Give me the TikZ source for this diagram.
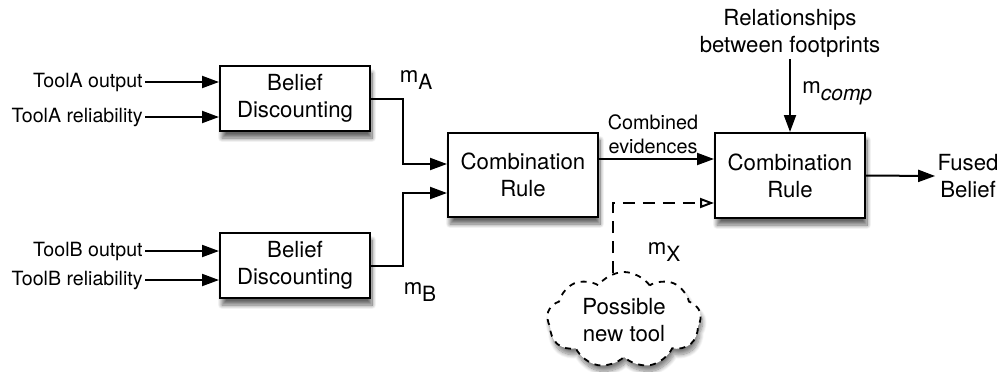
\documentclass[tikz,border=0pt]{standalone}
\usepackage{fontspec}
\setmainfont{TeX Gyre Heros}
\usetikzlibrary{arrows.meta,shapes.symbols,shadows.blur,calc}
\newcommand{\subsc}[1]{\raisebox{-0.6ex}{\fontsize{10.5}{12}\selectfont #1}}
\begin{document}
\begin{tikzpicture}[x=0.5pt,y=-0.5pt,
  box/.style={draw,line width=1pt,fill=white,align=center,inner sep=0pt,
    font=\fontsize{11.1}{13.5}\selectfont,
    blur shadow={shadow blur steps=12,shadow xshift=1pt,shadow yshift=-3.5pt,shadow opacity=60}},
  lbl/.style={font=\fontsize{9.8}{11.5}\selectfont,inner sep=1pt},
  big/.style={font=\fontsize{11.1}{13.5}\selectfont,align=center,inner sep=1pt},
  arr/.style={line width=1pt,-{Triangle[length=8.5pt,width=6pt]}},
  dsh/.style={line width=1pt,dash pattern=on 6pt off 4pt,-{Triangle[open,length=7pt,width=5pt]}}]
\useasboundingbox (0,0) rectangle (1000,371);
\node[box,minimum width=75pt,minimum height=32.5pt] (bda) at (295,98.5) {Belief\\Discounting};
\node[box,minimum width=75pt,minimum height=32.5pt] (bdb) at (295,265.5) {Belief\\Discounting};
\node[box,minimum width=75pt,minimum height=42pt] (cra) at (523,175) {Combination\\Rule};
\node[box,minimum width=75pt,minimum height=42.5pt] (crb) at (790,175.5) {Combination\\Rule};
\node[lbl,anchor=east] (ia) at (145,82) {ToolA output};
\node[lbl,anchor=east] (ra) at (145,117) {ToolA reliability};
\node[lbl,anchor=east] (ib) at (145,251) {ToolB output};
\node[lbl,anchor=east] (rb) at (145,280) {ToolB reliability};
\draw[arr] (ia.east) -- (ia.east -| bda.west);
\draw[arr] (ra.east) -- (ra.east -| bda.west);
\draw[arr] (ib.east) -- (ib.east -| bdb.west);
\draw[arr] (rb.east) -- (rb.east -| bdb.west);
\coordinate (ina) at ($(cra.west)+(0,-11)$);
\coordinate (inb) at ($(cra.west)+(0,18)$);
\draw[arr] (bda.east) -- ++(32,0) |- (ina);
\draw[arr] (bdb.east) -- ++(32,0) |- (inb);
\node[big] (ma) at (416,80) {m\subsc{A}};
\node[big] (mb) at (420,292) {m\subsc{B}};
\coordinate (ce) at ($(cra.east)+(0,-16)$);
\draw[arr] (ce) -- (ce -| crb.west);
\node[font=\fontsize{9.9}{11.8}\selectfont,align=center,inner sep=0pt] (cel) at (653,134) {Combined\\evidences};
\node[cloud,draw,dashed,line width=0.9pt,cloud puffs=9,cloud puff arc=110,aspect=1.6,
  minimum width=77pt,minimum height=48pt,inner sep=0pt,align=center,
  font=\fontsize{11.1}{13.5}\selectfont,fill=white,
  blur shadow={shadow blur steps=10,shadow xshift=1pt,shadow yshift=-3pt,shadow opacity=50}] (cl) at (624,320) {Possible\\new tool};
\draw[dsh] ([xshift=-5.5pt,yshift=-1pt]cl.north) |- ($(crb.west)+(0,27.5)$);
\node[big] (mx) at (664,252) {m\subsc{X}};
\node[big] (rel) at (790,33) {Relationships\\between footprints};
\draw[arr] (rel.south) -- (crb.north);
\node[big,anchor=west] (mc) at (800,93) {m\subsc{\itshape comp}};
\node[big] (fb) at (968,176) {Fused\\Belief};
\draw[arr] (crb.east) -- (fb.west);
\end{tikzpicture}
\end{document}
